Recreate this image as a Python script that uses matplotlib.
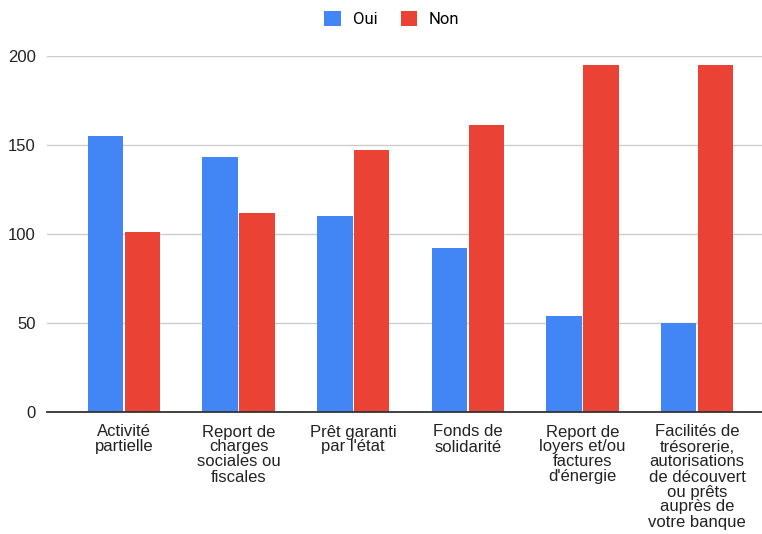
import numpy as np
import matplotlib.pyplot as plt
from matplotlib.patches import Patch

categories = [
    "Activité\npartielle",
    "Report de\ncharges\nsociales ou\nfiscales",
    "Prêt garanti\npar l'état",
    "Fonds de\nsolidarité",
    "Report de\nloyers et/ou\nfactures\nd'énergie",
    "Facilités de\ntrésorerie,\nautorisations\nde découvert\nou prêts\nauprès de\nvotre banque",
]
oui = [155, 143, 110, 92, 54, 50]
non = [101, 112, 147, 161, 195, 195]
yticks = [0, 50, 100, 150, 200]

BLUE = "#4285F4"
RED = "#EA4335"

plt.rcParams['font.family'] = ['Liberation Sans', 'DejaVu Sans']

fig = plt.figure(figsize=(7.62, 5.34), dpi=100)
ax = fig.add_axes([47 / 762, (534 - 412) / 534, 715 / 762, (412 - 56) / 534])

x = np.arange(len(categories))
w = 0.31
off = 0.161
ax.bar(x - off, oui, width=w, color=BLUE, zorder=3)
ax.bar(x + off, non, width=w, color=RED, zorder=3)

ax.set_xlim(-0.672, 5.567)
ax.set_ylim(0, 200)
ax.set_yticks(yticks)
ax.set_yticklabels([str(v) for v in yticks], fontsize=12, color="#222222")
ax.set_xticks(x)
ax.set_xticklabels(categories, fontsize=12, color="#222222", linespacing=1.0,
                   va="top")
ax.tick_params(axis="y", length=0, pad=8)
ax.tick_params(axis="x", length=0, pad=9)

ax.grid(axis="y", color="#CCCCCC", linewidth=1.0, zorder=0)
for s in ["top", "right", "left"]:
    ax.spines[s].set_visible(False)
ax.spines["bottom"].set_color("#333333")
ax.spines["bottom"].set_linewidth(1.3)
ax.spines["bottom"].set_zorder(4)

handles = [Patch(facecolor=BLUE, label="Oui"), Patch(facecolor=RED, label="Non")]
fig.legend(handles=handles, loc="center", bbox_to_anchor=(392 / 762, 1 - 19 / 534),
           ncol=2, frameon=False, handlelength=1.0, handleheight=1.0,
           handletextpad=0.7, columnspacing=1.4,
           prop={"family": "Roboto", "size": 12})

fig.savefig("out.png", dpi=100, facecolor="white")
